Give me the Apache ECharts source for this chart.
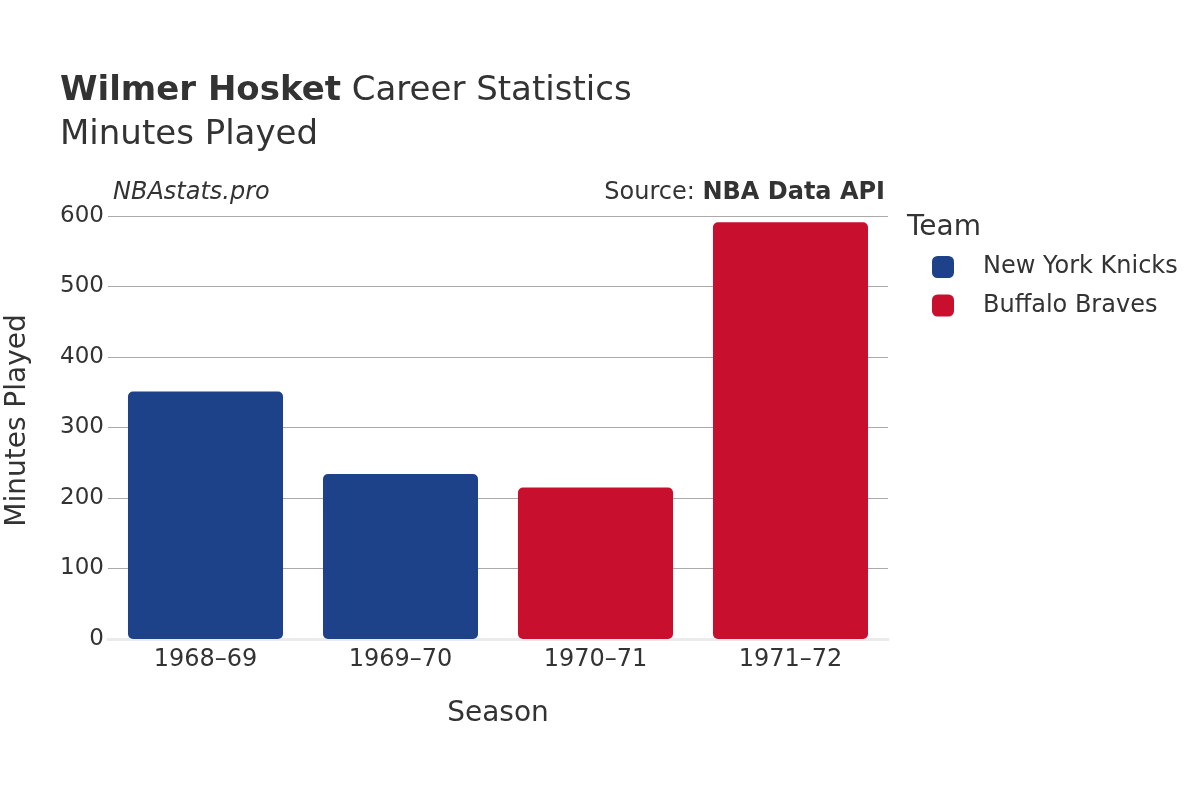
<!DOCTYPE html>
<html>
<head>
<meta charset="utf-8">
<script src="https://cdn.jsdelivr.net/npm/echarts@6/dist/echarts.min.js"></script>
<style>html,body{margin:0;padding:0;background:#fff}#c{width:1200px;height:800px}</style>
</head>
<body>
<div id="c"></div>
<script>
const seasons = ['1968–69', '1969–70', '1970–71', '1971–72'];
const knicksMinutes = [351, 234, null, null];
const bravesMinutes = [null, null, 215, 591];
const yTicks = [0, 100, 200, 300, 400, 500, 600];
const teams = ['New York Knicks', 'Buffalo Braves'];
const teamColors = ['#1d428a', '#c8102e'];

const FONT = 'DejaVu Sans';
const chart = echarts.init(document.getElementById('c'), null, {renderer: 'canvas'});
chart.setOption({
  backgroundColor: '#ffffff',
  animation: false,
  textStyle: {fontFamily: FONT, color: '#333'},
  title: {
    left: 55, top: 64,
    text: '{b|Wilmer Hosket}{n| Career Statistics}\n{n|Minutes Played}',
    textStyle: {
      fontWeight: 'normal',
      rich: {
        b: {fontFamily: FONT, fontSize: 34, fontWeight: 'bold', color: '#333', lineHeight: 44},
        n: {fontFamily: FONT, fontSize: 34, fontWeight: 'normal', color: '#333', lineHeight: 44}
      }
    }
  },
  graphic: [
    {type: 'text', left: 113, top: 181, style: {text: 'NBAstats.pro', font: 'italic 24px "DejaVu Sans"', fill: '#333'}},
    {type: 'text', right: 315, top: 181, style: {rich: {a: {fontFamily: FONT, fontSize: 24, fill: '#333', color: '#333'}, b: {fontFamily: FONT, fontSize: 24, fontWeight: 'bold', fill: '#333', color: '#333'}}, text: '{a|Source: }{b|NBA Data API}'}},
    {type: 'text', left: 907, top: 214, style: {text: 'Team', font: '28px "DejaVu Sans"', fill: '#333'}}
  ],
  legend: {
    orient: 'vertical',
    left: 927, top: 250,
    icon: 'roundRect',
    itemWidth: 22, itemHeight: 22, itemGap: 14.5,
    data: teams,
    textStyle: {fontFamily: FONT, fontSize: 24, color: '#333', padding: [0, 0, 0, 24]}
  },
  grid: {left: 108, right: 312, top: 216, bottom: 161, containLabel: false, outerBoundsMode: 'none'},
  xAxis: {
    type: 'category',
    data: seasons,
    name: 'Season',
    nameLocation: 'middle',
    nameGap: 61,
    nameTextStyle: {fontFamily: FONT, fontSize: 28, color: '#333'},
    axisLine: {show: true, lineStyle: {color: '#ebebeb', width: 3}},
    axisTick: {show: false},
    axisLabel: {fontFamily: FONT, fontSize: 24, color: '#333', margin: 9}
  },
  yAxis: {
    type: 'value',
    min: 0, max: 600, interval: 100,
    name: 'Minutes Played',
    nameLocation: 'middle',
    nameGap: 76,
    nameTextStyle: {fontFamily: FONT, fontSize: 28, color: '#333', padding: [0, 0, 0, 14]},
    axisLine: {show: false},
    axisTick: {show: false},
    axisLabel: {fontFamily: FONT, fontSize: 23, color: '#333', margin: 4, padding: [3, 0, 0, 0],
      formatter: v => yTicks.includes(v) ? String(v) : ''},
    splitLine: {lineStyle: {color: '#aaaaaa', width: 1}}
  },
  series: [
    {name: teams[0], type: 'bar', stack: 'all', data: knicksMinutes, barCategoryGap: '20.5%',
      itemStyle: {color: teamColors[0], borderRadius: 5}},
    {name: teams[1], type: 'bar', stack: 'all', data: bravesMinutes, barCategoryGap: '20.5%',
      itemStyle: {color: teamColors[1], borderRadius: 5}}
  ]
});
</script>
</body>
</html>
